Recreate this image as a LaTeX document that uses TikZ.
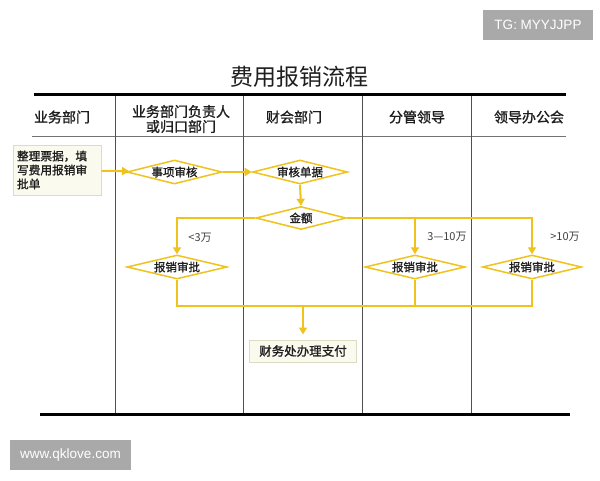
\documentclass[tikz,border=0pt]{standalone}
\usepackage{fontspec}
\setmainfont{Liberation Sans}
\newfontfamily\cjk{Noto Sans CJK SC}
\newfontfamily\cjkb[FakeBold=1.2]{Noto Sans CJK SC}
\usetikzlibrary{shapes.geometric,arrows.meta}
\definecolor{ylw}{HTML}{EFC21C}
\definecolor{grid}{HTML}{505050}
\definecolor{wm}{HTML}{A9A9A9}
\definecolor{paper}{HTML}{FAFAEE}
\definecolor{paperedge}{HTML}{DCDCC0}
\definecolor{ink}{HTML}{1E1E1E}
\tikzset{
  flow/.style={draw=ylw, line width=2pt},
  flowarrow/.style={flow, -{Triangle[length=7pt,width=8pt]}},
  dia/.style={diamond, aspect=4, draw=ylw, line width=1.5pt, fill=white,
    inner sep=0pt, minimum height=24pt, text=ink, font=\cjkb\fontsize{11.5}{13}\selectfont},
  pbox/.style={draw=paperedge, line width=1pt, fill=paper, text=ink},
  hdr/.style={text=ink, font=\cjkb\fontsize{14}{15}\selectfont, align=center},
  lbl/.style={text=ink!85, font=\cjk\fontsize{11}{13}\selectfont},
  wmbox/.style={fill=wm, text=white, font=\fontsize{13.5}{15}\selectfont, inner sep=0pt},
  thick rule/.style={draw=black, line width=3pt},
  lane/.style={draw=grid, line width=0.8pt}
}
\begin{document}
\begin{tikzpicture}[x=1pt,y=-1pt]
\useasboundingbox (0,0) rectangle (600,480);
\fill[white] (0,0) rectangle (600,480);

% watermarks
\node[wmbox, minimum width=110pt, minimum height=30pt] (tg) at (538,25) {TG: MYYJJPP};
\node[wmbox, minimum width=121pt, minimum height=30pt] (web) at (70.5,455) {www.qklove.com};

% title
\node[text=ink, font=\cjk\fontsize{23}{26}\selectfont] (title) at (299,77) {费用报销流程};

% grid
\coordinate (tl) at (34,94);
\coordinate (tr) at (566,94);
\coordinate (bl) at (40,414);
\coordinate (br) at (570,414);
\coordinate (hl) at (32,136);
\coordinate (hr) at (566,136);
\draw[lane, draw=grid!80] (hl) -- (hr);
\foreach \x/\n in {115.5/a,243.5/b,362/c,471/d}{
  \coordinate (lt\n) at (\x,94);
  \coordinate (lb\n) at (\x,414);
  \draw[lane] (lt\n) -- (lb\n);
}
\draw[thick rule] (tl) -- (tr);
\draw[thick rule] (bl) -- (br);

% header
\node[hdr] (h1) at (62,117) {业务部门};
\node[hdr] (h2) at (181,119) {业务部门负责人\\或归口部门};
\node[hdr] (h3) at (294,117) {财会部门};
\node[hdr] (h4) at (417,117) {分管领导};
\node[hdr] (h5) at (529,117) {领导办公会};

% nodes
\node[pbox, minimum width=88pt, minimum height=50pt, text width=80pt, align=left,
  inner sep=3pt, font=\cjkb\fontsize{11.7}{14}\selectfont] (start) at (57,170)
  {整理票据，填\\写费用报销审\\批单};
\node[dia, minimum width=95pt] (d1) at (174.5,172) {事项审核};
\node[dia, minimum width=95pt] (d2) at (300,172) {审核单据};
\node[dia, minimum width=90pt, minimum height=23pt] (d3) at (301,218) {金额};
\node[dia, minimum width=100pt] (d4) at (177,267) {报销审批};
\node[dia, minimum width=100pt] (d5) at (415,267) {报销审批};
\node[dia, minimum width=99pt] (d6) at (532,267) {报销审批};
\node[pbox, minimum width=107pt, minimum height=22pt, inner sep=2pt,
  font=\cjkb\fontsize{12.5}{14}\selectfont] (pay) at (303,351) {财务处办理支付};

% labels
\node[lbl] (l1) at (200,238) {<3万};
\node[lbl] (l2) at (447,237) {3—10万};
\node[lbl] (l3) at (565,237) {>10万};

% connectors
\draw[flowarrow] (start) -- (d1);
\draw[flowarrow] (d1) -- (d2);
\draw[flowarrow] (d2.south) -- (d3.north);
\draw[flowarrow] (d3.west) -| (d4.north);
\draw[flowarrow] (d3.east) -| (d6.north);
\coordinate (j1) at (d5.north |- d3.east);
\draw[flowarrow] (j1) -- (d5.north);
\coordinate (bus) at (303,306);
\draw[flow] (d4.south) |- (bus) -| (d6.south);
\draw[flow] (d5.south) -- (d5.south |- bus);
\draw[flowarrow, shorten >=5pt] (bus) -- (pay.north);
\end{tikzpicture}
\end{document}
